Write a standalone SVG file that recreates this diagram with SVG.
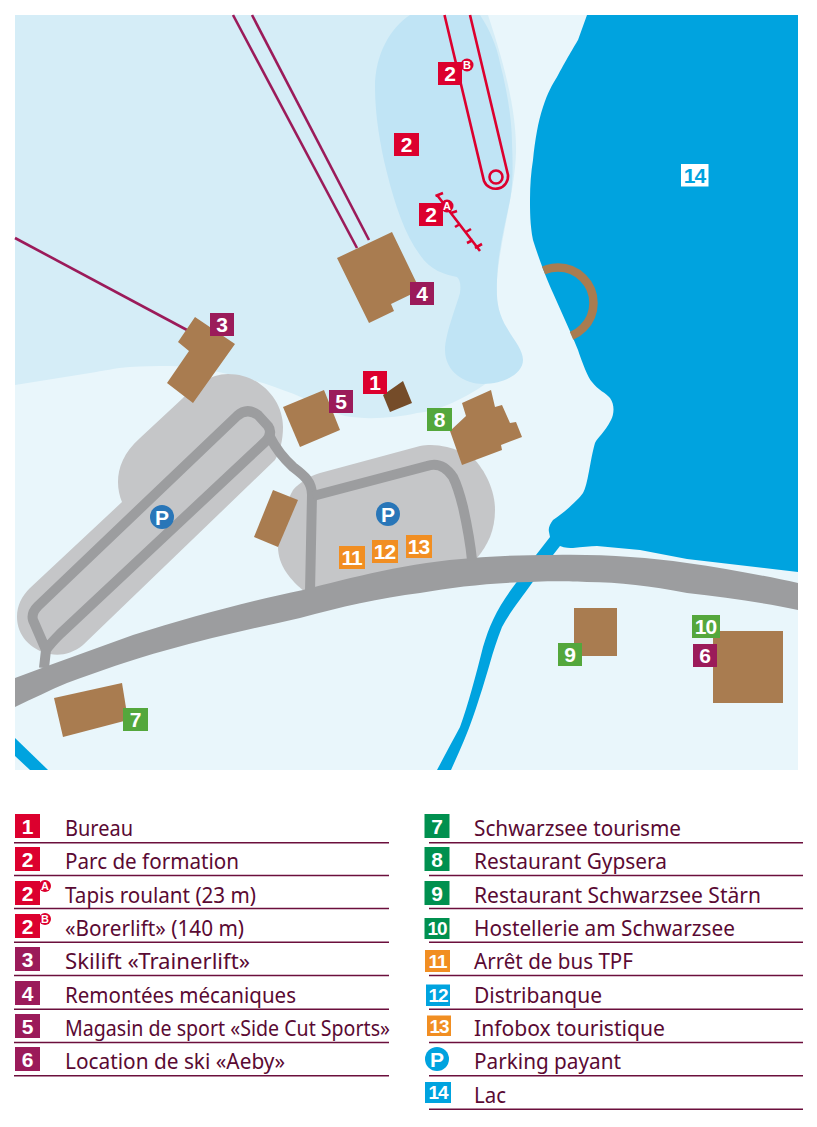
<svg xmlns="http://www.w3.org/2000/svg" width="817" height="1127" viewBox="0 0 817 1127">
<style>
.bld{fill:#A97C50}
.bg{font-family:"Liberation Sans",Arial,sans-serif;font-weight:700;fill:#fff;text-anchor:middle;font-size:21px}
.sm{font-size:19px;letter-spacing:-1px}
.md{font-size:21px;letter-spacing:-1px}
.cap{font-family:"Liberation Sans",Arial,sans-serif;font-weight:700;fill:#fff;text-anchor:middle;font-size:11px}
.r{fill:#DC002E}.p{fill:#9B1B5A}.g{fill:#54A73C}.o{fill:#F18E22}.gd{fill:#00904F}.b{fill:#00A3DF}.pk{fill:#2976B8}
.lg{font-family:"Noto Sans",sans-serif;font-size:22px;fill:#5A0A33}
.rule{stroke:#6B0F3C;stroke-width:1.4;fill:none}
.road{fill:none;stroke:#9C9D9F;stroke-width:10;stroke-linejoin:round}
.lift{fill:none;stroke:#9B1B5A;stroke-width:2.600}
.red{fill:none;stroke:#DC002E;stroke-width:2.600}
</style>
<defs><clipPath id="pier"><polygon points="535,250 553,293 582,360 798,360 798,250"/></clipPath></defs>
<rect width="817" height="1127" fill="#fff"/>
<g id="map">
<rect x="15" y="15" width="783" height="755" fill="#E9F6FB"/>
<path id="snow" d="M15,15 L488,15 C503,60 517,110 516,153 C515,190 500,240 497,280 L497,340 L487,383 C467,397 440,411 417,413 C395,418 367,420 345,416 C330,412 318,404 303,398 C290,392 277,388 263,383 C250,379 236,376 223,373 C205,369 190,366 170,366 C155,366 142,366 130,367 C115,368 103,371 90,373 C65,377 40,381 15,385 Z" fill="#D5EDF7"/>
<path id="training" d="M410,15 L480,15 C490,30 497,47 500,63 C507,90 512,120 512,143 C513,165 513,185 510,200 C505,225 498,250 497,280 C496,300 498,313 507,328 C514,340 523,350 523,360 C523,373 505,384 483,384 C465,384 445,372 445,350 C445,335 455,310 460,293 C461,284 460,280 457,277 C445,275 430,270 420,255 C405,235 395,205 387,173 C380,145 375,115 375,87 C375,55 390,28 410,15 Z" fill="#C0E4F5"/>
<path id="lake" d="M587,15 L798,15 L798,572 L687,559 L640,550 L597,546 C590,546 582,547 573,548 C570,548 565,548 560,546 L553,555 L536,555 L550,537 L549,532 C548,528 550,524 553,520 C565,512 578,500 583,493 C588,485 590,460 595,443 C597,438 605,432 611,420 C614,414 615,405 610,398 C606,393 598,390 592,382 C588,378 582,362 578,350 L573,338 L553,293 C547,280 540,262 533,240 C530,225 530,210 530,200 C530,185 531,172 533,160 C535,140 538,122 543,107 C548,92 552,85 557,77 C565,62 575,45 578,40 Z" fill="#00A3DF"/>
<path id="river" d="M536,555 L553,555 L532,583 C520,600 510,612 502,627 C497,640 493,652 490,663 C485,680 480,697 473,717 C467,735 459,752 451,770 L437,770 C445,755 453,740 460,727 C468,705 476,675 483,647 C486,637 489,628 493,620 C499,607 507,595 516,583 Z" fill="#00A3DF"/>
<path id="river2" d="M15,738 L48,770 L30,770 L15,756 Z" fill="#00A3DF"/>
<path id="parking1" d="M30,588 L122,502 C115,485 115,460 140,438 L183,398 C195,385 210,374 228,374 C260,374 283,400 283,427 C283,440 280,452 275,460 L83,645 C72,654 60,656 50,654 C30,650 17,635 17,617 C17,605 22,596 30,588 Z" fill="#C5C6C8"/>
<path id="parking2" d="M320,473 L420,446 C430,444 438,445 447,447 C455,449 465,453 473,458 C485,470 495,490 495,510 C495,530 488,545 477,558 L305,592 C290,580 278,565 278,547 C278,525 285,505 293,490 C300,482 310,476 320,473 Z" fill="#C5C6C8"/>
<path id="road-main" d="M15,678 L50,665 L133,635 C190,617 250,601 303,590 C350,578 410,562 473,558 C495,556 525,555 553,555 C600,554 645,557 687,563 C725,568 765,576 798,583 L798,610 C765,603 725,597 687,593 C650,586 620,582 587,582 C560,581 545,581 530,582 C490,583 455,587 420,593 C380,598 340,607 300,618 C255,628 210,638 167,650 C130,660 100,671 67,683 C50,690 32,699 15,707 Z" fill="#9C9D9F"/>
<g id="connectors">
<path class="road" d="M44,668 L46,650 L33,620 Q31,613 38,606 L237,416 Q247,407 258,415 L268,426 Q273,433 266,441 L60,634 Q50,644 46,650"/>
<path class="road" d="M270,437 C275,447 280,455 293,467 C305,476 312,482 312,495 L310,592"/>
<path class="road" d="M313,496 L427,466 Q442,461 453,477 C458,487 460,495 463,507 C467,525 470,540 472,560"/>
<line class="lift" x1="233" y1="15" x2="357" y2="248"/>
<line class="lift" x1="252" y1="15" x2="369" y2="240"/>
<line class="lift" x1="15" y1="238" x2="187" y2="330"/>
<path class="red" d="M444.500,15 L484,181 A12.500,12.500 0 0 0 508,175 L470,15"/>
<circle class="red" cx="496" cy="177" r="6.500"/>
<path class="red" d="M437,195 L480,251 M435.500,196 L443,193 M451,213 L457,211 M455,227 L460,224 M466,232 L471,229 M467,243 L473,240 M475,248 L482,244"/>
<circle clip-path="url(#pier)" cx="558" cy="303" r="35.500" fill="none" stroke="#A97C50" stroke-width="8.500"/>
</g>
<g id="buildings">
<polygon class="bld" points="337,258 392,232 420,290 391,304 394,311 369,323"/>
<polygon class="bld" points="195,317 235,344 193,403 167,383 189,351 178,342"/>
<polygon class="bld" points="283,407 324,390 340,430 300,447"/>
<polygon points="383,395 403,381 412,403 390,412" fill="#754C29"/>
<polygon class="bld" points="450,431 466,416 462,403 491,390 495,407 502,405 510,423 516,422 522,437 501,445 502,450 462,465"/>
<polygon class="bld" points="273,490 298,500 278,547 254,537"/>
<polygon class="bld" points="54,698 122,683 128,720 63,737"/>
<rect class="bld" x="574" y="608" width="43" height="48"/>
<rect class="bld" x="713" y="631" width="70" height="72"/>
</g>
<g id="badge-2b"><rect class="r" x="438" y="62" width="24" height="23"/><text class="bg" x="450" y="81">2</text><circle class="r" cx="467" cy="65" r="6.500"/><text class="cap" x="467" y="69">B</text></g>
<g id="badge-2"><rect class="r" x="394" y="133" width="25" height="23"/><text class="bg" x="406.500" y="152">2</text></g>
<g id="badge-2a"><rect class="r" x="419" y="203" width="24" height="23"/><text class="bg" x="431" y="222">2</text><circle class="r" cx="447" cy="206" r="6.500"/><text class="cap" x="447" y="210">A</text></g>
<g id="badge-3"><rect class="p" x="210" y="313" width="24" height="23"/><text class="bg" x="222" y="332">3</text></g>
<g id="badge-4"><rect class="p" x="410" y="282" width="24" height="23"/><text class="bg" x="422" y="301">4</text></g>
<g id="badge-5"><rect class="p" x="329" y="390" width="24" height="23"/><text class="bg" x="341" y="409">5</text></g>
<g id="badge-1"><rect class="r" x="363" y="371" width="24" height="23"/><text class="bg" x="375" y="390">1</text></g>
<g id="badge-8"><rect class="g" x="427" y="408" width="25" height="23"/><text class="bg" x="439.500" y="427">8</text></g>
<g id="badge-p2"><circle class="pk" cx="388" cy="514" r="12"/><text class="bg" x="388" y="522">P</text></g>
<g id="badge-p1"><circle class="pk" cx="162" cy="517" r="12"/><text class="bg" x="162" y="525">P</text></g>
<g id="badge-11"><rect class="o" x="339" y="546" width="26" height="23"/><text class="bg md" x="351.500" y="565">11</text></g>
<g id="badge-12"><rect class="o" x="372" y="540" width="26" height="23"/><text class="bg md" x="384.500" y="559">12</text></g>
<g id="badge-13"><rect class="o" x="406" y="535" width="26" height="23"/><text class="bg md" x="418.500" y="554">13</text></g>
<g id="badge-7"><rect class="g" x="123" y="708" width="25" height="23"/><text class="bg" x="135.500" y="727">7</text></g>
<g id="badge-9"><rect class="g" x="558" y="643" width="24" height="23"/><text class="bg" x="570" y="662">9</text></g>
<g id="badge-10"><rect class="g" x="692" y="615" width="28" height="23"/><text class="bg md" x="705.500" y="634">10</text></g>
<g id="badge-6"><rect class="p" x="693" y="644" width="24" height="23"/><text class="bg" x="705" y="663">6</text></g>
<g id="badge-14"><rect x="681" y="164" width="27.500" height="22.500" fill="#fff"/><text class="bg md" x="694.500" y="183" style="fill:#00A3DF">14</text></g>
</g>
<g id="legend">
<g class="rule"><path d="M14,842.700H389M14,875.500H389M14,908.500H389M14,942.300H389M14,975.500H389M14,1009.300H389M14,1042.500H389M14,1075.700H389M429,842.700H803M429,875.500H803M429,908.500H803M429,942.300H803M429,975.500H803M429,1009.300H803M429,1042.500H803M429,1075.700H803M429,1109.300H803"/></g>
<g id="leg-1"><rect class="r" x="15" y="814" width="25" height="24"/><text class="bg" x="27.500" y="834">1</text><text class="lg" x="65" y="835.500" textLength="68" lengthAdjust="spacingAndGlyphs">Bureau</text></g>
<g id="leg-2"><rect class="r" x="15" y="847" width="25" height="24"/><text class="bg" x="27.500" y="867">2</text><text class="lg" x="65" y="869" textLength="174" lengthAdjust="spacingAndGlyphs">Parc de formation</text></g>
<g id="leg-2a"><rect class="r" x="15" y="881" width="25" height="24"/><text class="bg" x="27.500" y="901">2</text><circle class="r" cx="45" cy="886" r="6"/><text class="cap" x="45" y="890">A</text><text class="lg" x="65" y="902.500" textLength="191" lengthAdjust="spacingAndGlyphs">Tapis roulant (23 m)</text></g>
<g id="leg-2b"><rect class="r" x="15" y="914" width="25" height="24"/><text class="bg" x="27.500" y="934">2</text><circle class="r" cx="45" cy="919" r="6"/><text class="cap" x="45" y="923">B</text><text class="lg" x="65" y="936" textLength="179" lengthAdjust="spacingAndGlyphs">«Borerlift» (140 m)</text></g>
<g id="leg-3"><rect class="p" x="15" y="947" width="25" height="24"/><text class="bg" x="27.500" y="967">3</text><text class="lg" x="65" y="969" textLength="185" lengthAdjust="spacingAndGlyphs">Skilift «Trainerlift»</text></g>
<g id="leg-4"><rect class="p" x="15" y="981" width="25" height="24"/><text class="bg" x="27.500" y="1001">4</text><text class="lg" x="65" y="1002.500" textLength="231" lengthAdjust="spacingAndGlyphs">Remontées mécaniques</text></g>
<g id="leg-5"><rect class="p" x="15" y="1014" width="25" height="24"/><text class="bg" x="27.500" y="1034">5</text><text class="lg" x="65" y="1036" textLength="325" lengthAdjust="spacingAndGlyphs">Magasin de sport «Side Cut Sports»</text></g>
<g id="leg-6"><rect class="p" x="15" y="1047" width="25" height="24"/><text class="bg" x="27.500" y="1067">6</text><text class="lg" x="65" y="1069" textLength="220" lengthAdjust="spacingAndGlyphs">Location de ski «Aeby»</text></g>
<g id="leg-7"><rect class="gd" x="424.500" y="814" width="25" height="24"/><text class="bg" x="437" y="834">7</text><text class="lg" x="474" y="835.500" textLength="207" lengthAdjust="spacingAndGlyphs">Schwarzsee tourisme</text></g>
<g id="leg-8"><rect class="gd" x="424.500" y="847" width="25" height="24"/><text class="bg" x="437" y="867">8</text><text class="lg" x="474" y="869" textLength="193" lengthAdjust="spacingAndGlyphs">Restaurant Gypsera</text></g>
<g id="leg-9"><rect class="gd" x="424.500" y="881" width="25" height="24"/><text class="bg" x="437" y="901">9</text><text class="lg" x="474" y="902.500" textLength="287" lengthAdjust="spacingAndGlyphs">Restaurant Schwarzsee Stärn</text></g>
<g id="leg-10"><rect class="gd" x="424.500" y="918" width="25" height="21"/><text class="bg sm" x="437" y="935">10</text><text class="lg" x="474" y="936" textLength="261" lengthAdjust="spacingAndGlyphs">Hostellerie am Schwarzsee</text></g>
<g id="leg-11"><rect class="o" x="425" y="950" width="25" height="22"/><text class="bg sm" x="437.500" y="968">11</text><text class="lg" x="474" y="969" textLength="159" lengthAdjust="spacingAndGlyphs">Arrêt de bus TPF</text></g>
<g id="leg-12"><rect class="b" x="426" y="984.500" width="24" height="21.500"/><text class="bg sm" x="438" y="1002">12</text><text class="lg" x="474" y="1002.500" textLength="128" lengthAdjust="spacingAndGlyphs">Distribanque</text></g>
<g id="leg-13"><rect class="o" x="427" y="1015.500" width="24" height="20.500"/><text class="bg sm" x="439" y="1033">13</text><text class="lg" x="474" y="1036" textLength="191" lengthAdjust="spacingAndGlyphs">Infobox touristique</text></g>
<g id="leg-p"><circle class="b" cx="437" cy="1059" r="12"/><text class="bg" x="437" y="1067">P</text><text class="lg" x="474" y="1069" textLength="147" lengthAdjust="spacingAndGlyphs">Parking payant</text></g>
<g id="leg-14"><rect class="b" x="425" y="1082" width="26" height="21"/><text class="bg sm" x="438" y="1099">14</text><text class="lg" x="474" y="1102.500" textLength="32" lengthAdjust="spacingAndGlyphs">Lac</text></g>
</g>
</svg>
